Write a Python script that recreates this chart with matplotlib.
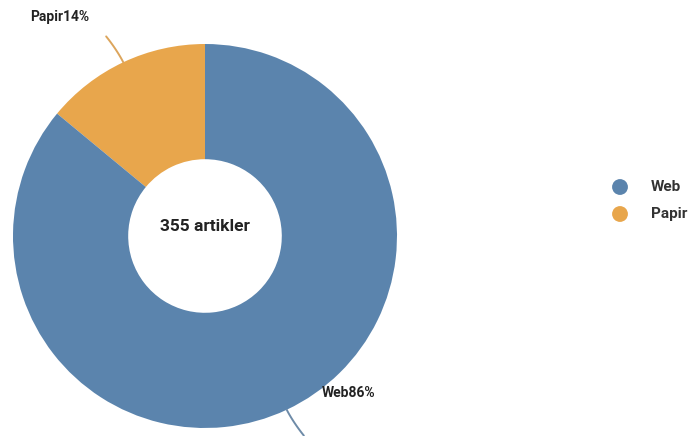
import numpy as np
import matplotlib.pyplot as plt

# data
labels = ["Papir", "Web"]
values = [14, 86]
colors = ["#E8A64C", "#5B84AD"]
legend_order = ["Web", "Papir"]
center_text = "355 artikler"

W, H = 688, 436
CX, CY, R = 205, 436 - 236, 192
HOLE = 0.40

plt.rcParams["font.family"] = ["Roboto", "DejaVu Sans"]

fig = plt.figure(figsize=(W / 100, H / 100), dpi=100)
ax = fig.add_axes([0, 0, 1, 1])

ax.pie(values, colors=colors, startangle=90, counterclock=True,
       center=(CX, CY), radius=R, frame=True,
       wedgeprops=dict(width=R * (1 - HOLE), linewidth=0))
ax.set_xlim(0, W)
ax.set_ylim(0, H)
ax.set_aspect("equal")
ax.axis("off")

ax.text(CX, CY + 10, center_text, ha="center", va="center", fontsize=12.5,
        fontweight="bold", color="#222222")

# leader lines + labels
total = sum(values)
a0 = 90
for lab, v, c in zip(labels, values, colors):
    a1 = a0 + 360 * v / total
    mid = np.deg2rad((a0 + a1) / 2)
    a0 = a1
    t = np.linspace(0, 1, 20)
    rs = R * (1 + 0.16 * t)
    ang = mid + 0.02 * t ** 1.5
    xs = CX + rs * np.cos(ang)
    ys = CY + rs * np.sin(ang)
    lc = "#DCA55C" if lab == "Papir" else "#6E8BA8"
    ax.plot(xs, ys, color=lc, lw=1.4, solid_capstyle="round")
    ex = CX + R * 1.17 * np.cos(mid)
    ey = CY + R * 1.17 * np.sin(mid)
    pct = f"{lab}{v}%"
    if np.sin(mid) > 0:
        ax.text(ex - 20, ey + 16, pct, ha="right", va="center",
                fontsize=10, fontweight="bold", color="#222222")
    else:
        ax.text(ex + 21, ey + 46, pct, ha="left", va="center",
                fontsize=10, fontweight="bold", color="#222222")

# legend
for i, lab in enumerate(legend_order):
    c = colors[labels.index(lab)]
    y = H - 187 - 27 * i
    ax.scatter([620], [y], s=130, color=c, edgecolors="none")
    ax.text(651, y, lab, ha="left", va="center", fontsize=11,
            fontweight="bold", color="#333333")

fig.savefig("out.png", dpi=100)
